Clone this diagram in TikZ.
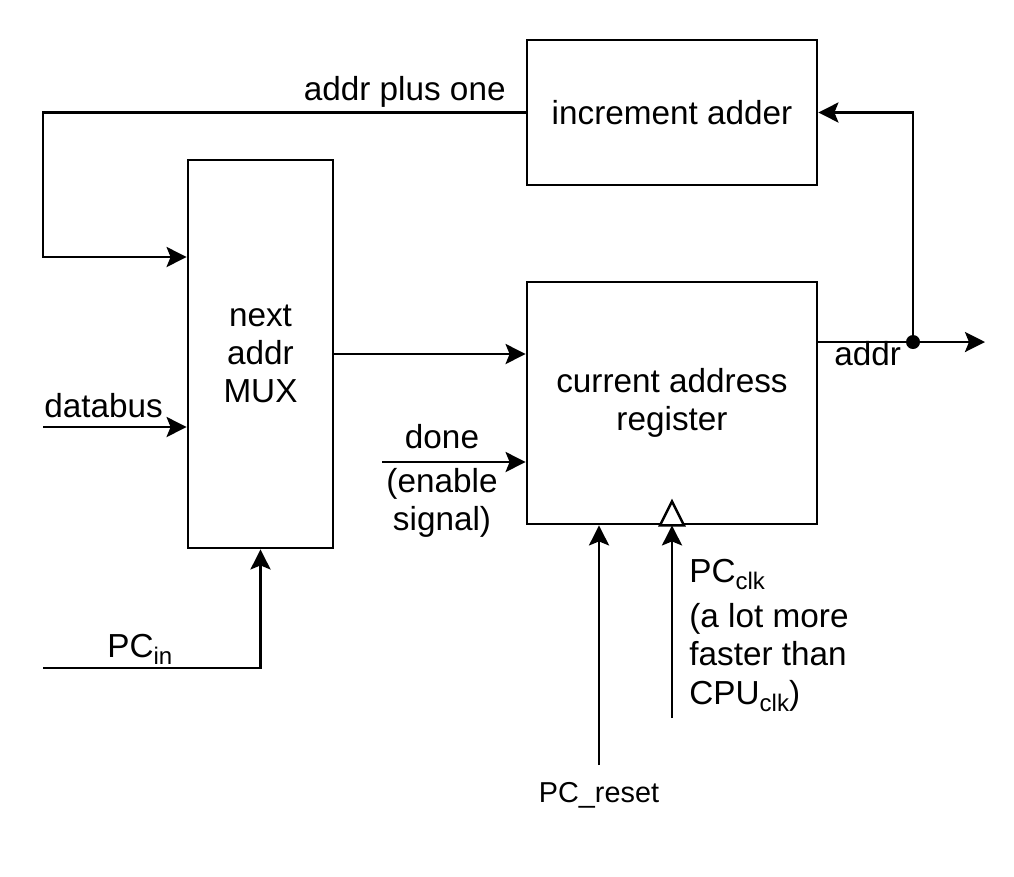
\documentclass[tikz,border=0pt]{standalone}
\usepackage{fontspec}
\setmainfont{Liberation Sans}
\usetikzlibrary{arrows.meta,calc}
\newcommand{\lowsub}[1]{\raisebox{-7pt}{\fontsize{24}{24}\selectfont #1}}
\begin{document}
\begin{tikzpicture}[x=1pt,y=-1pt,
  line width=2.8pt,
  box/.style={draw, rectangle, inner sep=0pt, align=center, font=\fontsize{33.3}{38}\selectfont},
  lbl/.style={inner sep=0pt, font=\fontsize{33.3}{38}\selectfont},
  smalllbl/.style={inner sep=0pt, font=\fontsize{28.8}{33}\selectfont},
  arr/.style={-{Stealth[length=20pt,width=20pt,inset=4pt]}}]
\useasboundingbox[fill=white] (0,0) rectangle (1014,876);

% boxes
\node[box, minimum width=290, minimum height=145] (adder) at (672,112.5) {increment adder};
\node[box, minimum width=145, minimum height=388] (mux) at (260.5,354) {next\\addr\\MUX};
\node[box, minimum width=290, minimum height=242] (reg) at (672,403) {current address\\register};

% feedback loop: adder -> mux
\coordinate (lpA) at (43,112.5);
\coordinate (lpB) at (43,257);
\draw[arr] (adder.west) -- (lpA) -- (lpB) -- (lpB -| mux.west);
\node[lbl, anchor=base east] (apo) at (507,100) {addr plus one};

% mux -> register
\draw[arr] (mux.east) -- (mux.east -| reg.west);

% databus
\coordinate (dbS) at (43,427);
\draw[arr] (dbS) -- (dbS -| mux.west);
\node[lbl, anchor=base west] (dbL) at (43,417) {databus};

% done
\coordinate (dnS) at (382,462);
\draw[arr] (dnS) -- (dnS -| reg.west);
\node[lbl, anchor=base] (dnL) at (442,448) {done};
\node[lbl, anchor=base] (dnL2) at (442,492) {(enable};
\node[lbl, anchor=base] (dnL3) at (442,530) {signal)};

% output addr
\coordinate (tap) at (913,342);
\coordinate (outE) at (985,342);
\draw[arr] (reg.east |- tap) -- (outE);
\fill (tap) circle (7);
\draw[arr] (tap) -- (tap |- adder.east) -- (adder.east);
\node[lbl, anchor=base west] (addrL) at (833,365) {addr};

% PC_in
\coordinate (pinS) at (43,668);
\draw[arr] (pinS) -- (pinS -| mux.south) -- (mux.south);
\node[lbl, anchor=base west] (pinL) at (106,657) {PC\lowsub{in}};

% PC_reset
\coordinate (rstS) at (599,765);
\draw[arr] (rstS) -- (rstS |- reg.south);
\node[smalllbl, anchor=base] (rstL) at (599,802) {PC\_reset};

% PC_clk
\coordinate (clkS) at (672,718);
\draw[line width=2.4pt, fill=white] ($(reg.south)+(-12,0)$) -- ($(reg.south)+(0,-24)$) -- ($(reg.south)+(12,0)$) -- cycle;
\draw[arr] (clkS) -- (clkS |- reg.south);
\node[lbl, anchor=base west] (clkL1) at (688,582) {PC\lowsub{clk}};
\node[lbl, anchor=base west] (clkL2) at (688,627) {(a lot more};
\node[lbl, anchor=base west] (clkL3) at (688,665) {faster than};
\node[lbl, anchor=base west] (clkL4) at (688,704) {CPU\lowsub{clk})};
\end{tikzpicture}
\end{document}
